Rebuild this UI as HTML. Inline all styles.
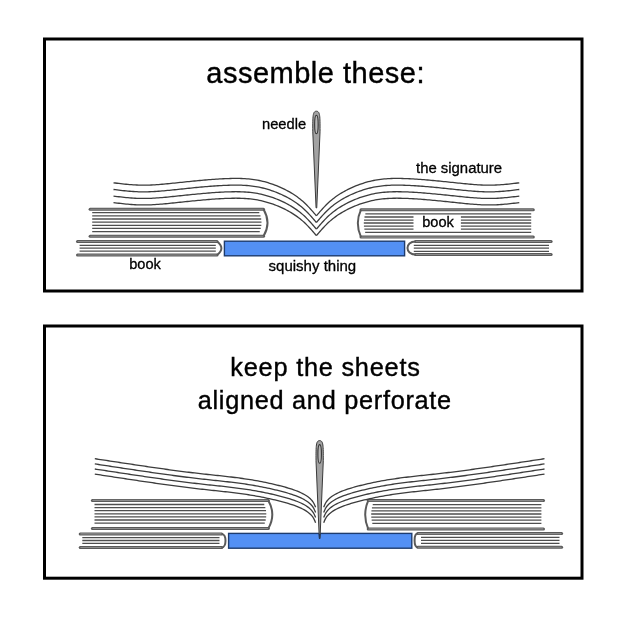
<!DOCTYPE html>
<html><head><meta charset="utf-8"><style>
html,body{margin:0;padding:0;background:#fff;}
svg{display:block;will-change:transform;}
text{font-family:"Liberation Sans",sans-serif;fill:#000;}
</style></head><body>
<svg width="620" height="618" viewBox="0 0 620 618">
<rect x="44.5" y="39" width="537.5" height="252" fill="none" stroke="#000" stroke-width="3"/>
<rect x="44.5" y="326" width="537.5" height="252.2" fill="none" stroke="#000" stroke-width="3"/>
<text transform="translate(315.60,82.60) scale(1.000,1)" font-size="29.00" text-anchor="middle" letter-spacing="0.50" stroke="#000" stroke-width="0.40">assemble these:</text>
<text transform="translate(262.00,129.20) scale(1.000,1)" font-size="14.70" text-anchor="start" letter-spacing="0.00" stroke="#000" stroke-width="0.30">needle</text>
<text transform="translate(416.00,172.50) scale(1.000,1)" font-size="14.90" text-anchor="start" letter-spacing="0.00" stroke="#000" stroke-width="0.30">the signature</text>
<text transform="translate(129.20,269.00) scale(1.000,1)" font-size="14.60" text-anchor="start" letter-spacing="0.00" stroke="#000" stroke-width="0.30">book</text>
<text transform="translate(268.60,271.00) scale(1.000,1)" font-size="15.00" text-anchor="start" letter-spacing="0.00" stroke="#000" stroke-width="0.30">squishy thing</text>
<line x1="90.10" y1="209.20" x2="263.50" y2="209.20" stroke="#5a5a5a" stroke-width="3" stroke-linecap="round"/>
<line x1="90.70" y1="209.20" x2="262.90" y2="209.20" stroke="#8c8c8c" stroke-width="1.1" stroke-linecap="round"/>
<line x1="90.10" y1="236.20" x2="263.50" y2="236.20" stroke="#5a5a5a" stroke-width="3" stroke-linecap="round"/>
<line x1="90.70" y1="236.20" x2="262.90" y2="236.20" stroke="#8c8c8c" stroke-width="1.1" stroke-linecap="round"/>
<path d="M263.50,209.20 Q271.50,222.70 263.50,236.20" fill="none" stroke="#5a5a5a" stroke-width="2"/>
<line x1="92.20" y1="212.70" x2="259.31" y2="212.70" stroke="#4e4e4e" stroke-width="1.3"/>
<line x1="92.20" y1="215.85" x2="260.47" y2="215.85" stroke="#4e4e4e" stroke-width="1.3"/>
<line x1="92.20" y1="219.00" x2="261.20" y2="219.00" stroke="#4e4e4e" stroke-width="1.3"/>
<line x1="92.20" y1="222.15" x2="261.49" y2="222.15" stroke="#4e4e4e" stroke-width="1.3"/>
<line x1="92.20" y1="225.30" x2="261.35" y2="225.30" stroke="#4e4e4e" stroke-width="1.3"/>
<line x1="92.20" y1="228.45" x2="260.77" y2="228.45" stroke="#4e4e4e" stroke-width="1.3"/>
<line x1="92.20" y1="231.60" x2="259.76" y2="231.60" stroke="#4e4e4e" stroke-width="1.3"/>
<line x1="361.00" y1="209.70" x2="533.30" y2="209.70" stroke="#5a5a5a" stroke-width="3" stroke-linecap="round"/>
<line x1="361.60" y1="209.70" x2="532.70" y2="209.70" stroke="#8c8c8c" stroke-width="1.1" stroke-linecap="round"/>
<line x1="361.00" y1="237.10" x2="533.30" y2="237.10" stroke="#5a5a5a" stroke-width="3" stroke-linecap="round"/>
<line x1="361.60" y1="237.10" x2="532.70" y2="237.10" stroke="#8c8c8c" stroke-width="1.1" stroke-linecap="round"/>
<path d="M361.00,209.70 Q354.60,223.40 361.00,237.10" fill="none" stroke="#5a5a5a" stroke-width="2"/>
<line x1="365.34" y1="213.90" x2="531.20" y2="213.90" stroke="#4e4e4e" stroke-width="1.3"/>
<line x1="364.50" y1="217.00" x2="531.20" y2="217.00" stroke="#4e4e4e" stroke-width="1.3"/>
<line x1="363.99" y1="220.10" x2="531.20" y2="220.10" stroke="#4e4e4e" stroke-width="1.3"/>
<line x1="363.80" y1="223.00" x2="531.20" y2="223.00" stroke="#4e4e4e" stroke-width="1.3"/>
<line x1="363.92" y1="226.10" x2="531.20" y2="226.10" stroke="#4e4e4e" stroke-width="1.3"/>
<line x1="364.37" y1="229.20" x2="531.20" y2="229.20" stroke="#4e4e4e" stroke-width="1.3"/>
<line x1="365.15" y1="232.30" x2="531.20" y2="232.30" stroke="#4e4e4e" stroke-width="1.3"/>
<line x1="77.50" y1="241.50" x2="217.00" y2="241.50" stroke="#5a5a5a" stroke-width="3" stroke-linecap="round"/>
<line x1="78.10" y1="241.50" x2="216.40" y2="241.50" stroke="#8c8c8c" stroke-width="1.1" stroke-linecap="round"/>
<line x1="77.50" y1="255.00" x2="217.00" y2="255.00" stroke="#5a5a5a" stroke-width="3" stroke-linecap="round"/>
<line x1="78.10" y1="255.00" x2="216.40" y2="255.00" stroke="#8c8c8c" stroke-width="1.1" stroke-linecap="round"/>
<path d="M217.00,241.50 Q225.80,248.25 217.00,255.00" fill="none" stroke="#5a5a5a" stroke-width="2"/>
<line x1="79.60" y1="245.30" x2="215.80" y2="245.30" stroke="#4e4e4e" stroke-width="1.3"/>
<line x1="79.60" y1="248.20" x2="215.80" y2="248.20" stroke="#4e4e4e" stroke-width="1.3"/>
<line x1="79.60" y1="251.10" x2="215.80" y2="251.10" stroke="#4e4e4e" stroke-width="1.3"/>
<line x1="415.50" y1="241.50" x2="551.10" y2="241.50" stroke="#5a5a5a" stroke-width="3" stroke-linecap="round"/>
<line x1="416.10" y1="241.50" x2="550.50" y2="241.50" stroke="#8c8c8c" stroke-width="1.1" stroke-linecap="round"/>
<line x1="415.50" y1="254.50" x2="551.10" y2="254.50" stroke="#5a5a5a" stroke-width="3" stroke-linecap="round"/>
<line x1="416.10" y1="254.50" x2="550.50" y2="254.50" stroke="#8c8c8c" stroke-width="1.1" stroke-linecap="round"/>
<path d="M415.50,241.50 C404.83,241.50 404.83,254.50 415.50,254.50" fill="none" stroke="#5a5a5a" stroke-width="2"/>
<line x1="413.80" y1="245.30" x2="549.00" y2="245.30" stroke="#4e4e4e" stroke-width="1.3"/>
<line x1="413.80" y1="248.20" x2="549.00" y2="248.20" stroke="#4e4e4e" stroke-width="1.3"/>
<line x1="413.80" y1="251.30" x2="549.00" y2="251.30" stroke="#4e4e4e" stroke-width="1.3"/>
<rect x="224.4" y="241.2" width="180.2" height="14.6" fill="#5390f4" stroke="#1e3c6e" stroke-width="1.4"/>
<rect x="413.5" y="215.7" width="47.4" height="14.7" fill="#fff"/>
<text transform="translate(422.20,227.20) scale(1.000,1)" font-size="14.60" text-anchor="start" letter-spacing="0.00" stroke="#000" stroke-width="0.30">book</text>
<path d="M113.50,182.80 L115.30,183.02 L117.09,183.23 L118.89,183.44 L120.69,183.65 L122.48,183.85 L124.28,184.04 L126.08,184.23 L127.87,184.40 L129.67,184.55 L131.47,184.70 L133.27,184.82 L135.07,184.93 L136.86,185.02 L138.66,185.09 L140.46,185.13 L142.27,185.16 L144.07,185.16 L145.87,185.14 L147.67,185.10 L149.47,185.05 L151.28,184.98 L153.08,184.89 L154.88,184.79 L156.68,184.67 L158.49,184.54 L160.29,184.40 L162.09,184.26 L163.89,184.10 L165.70,183.93 L167.50,183.76 L169.30,183.58 L171.10,183.40 L172.90,183.22 L174.70,183.03 L176.50,182.84 L178.30,182.66 L180.09,182.47 L181.89,182.28 L183.69,182.09 L185.48,181.90 L187.28,181.72 L189.08,181.53 L190.87,181.35 L192.67,181.17 L194.46,180.99 L196.26,180.82 L198.05,180.64 L199.85,180.48 L201.64,180.31 L203.44,180.15 L205.24,179.99 L207.03,179.84 L208.83,179.69 L210.63,179.55 L212.42,179.41 L214.22,179.29 L216.02,179.16 L217.82,179.05 L219.62,178.94 L221.43,178.84 L223.23,178.75 L225.03,178.67 L226.84,178.60 L228.64,178.54 L230.45,178.49 L232.26,178.45 L234.07,178.43 L235.88,178.42 L237.69,178.43 L239.50,178.46 L241.31,178.51 L243.12,178.58 L244.92,178.68 L246.73,178.80 L248.53,178.95 L250.32,179.12 L252.12,179.33 L253.90,179.57 L255.69,179.85 L257.46,180.16 L259.24,180.50 L261.00,180.88 L262.76,181.30 L264.51,181.74 L266.25,182.22 L267.99,182.73 L269.72,183.27 L271.43,183.84 L273.14,184.43 L274.84,185.06 L276.52,185.71 L278.20,186.39 L279.86,187.09 L281.51,187.83 L283.15,188.59 L284.77,189.38 L286.38,190.21 L287.98,191.06 L289.55,191.94 L291.11,192.86 L292.66,193.80 L294.18,194.78 L295.68,195.79 L297.16,196.83 L298.61,197.91 L300.04,199.02 L301.44,200.16 L302.81,201.33 L304.15,202.54 L305.46,203.78 L306.74,205.04 L308.00,206.33 L309.24,207.64 L310.46,208.98 L311.66,210.32 L312.86,211.68 L314.04,213.05 L315.22,214.42 L316.40,215.80" fill="none" stroke="#3c3c3c" stroke-width="1.30" stroke-linejoin="round"/>
<path d="M316.40,215.80 L317.58,214.42 L318.76,213.05 L319.94,211.68 L321.14,210.32 L322.34,208.98 L323.56,207.64 L324.80,206.33 L326.06,205.04 L327.34,203.78 L328.65,202.54 L329.99,201.33 L331.36,200.16 L332.76,199.02 L334.19,197.91 L335.64,196.83 L337.12,195.79 L338.62,194.78 L340.14,193.80 L341.69,192.86 L343.25,191.94 L344.82,191.06 L346.42,190.21 L348.03,189.38 L349.65,188.59 L351.29,187.83 L352.94,187.09 L354.60,186.39 L356.28,185.71 L357.96,185.06 L359.66,184.43 L361.37,183.84 L363.08,183.27 L364.81,182.73 L366.55,182.22 L368.29,181.74 L370.04,181.30 L371.80,180.88 L373.56,180.50 L375.34,180.16 L377.11,179.85 L378.90,179.57 L380.68,179.33 L382.48,179.12 L384.27,178.95 L386.07,178.80 L387.88,178.68 L389.68,178.58 L391.49,178.51 L393.30,178.46 L395.11,178.43 L396.92,178.42 L398.73,178.43 L400.54,178.45 L402.35,178.49 L404.16,178.54 L405.96,178.60 L407.77,178.67 L409.57,178.75 L411.37,178.84 L413.18,178.94 L414.98,179.05 L416.78,179.16 L418.58,179.29 L420.38,179.41 L422.17,179.55 L423.97,179.69 L425.77,179.84 L427.56,179.99 L429.36,180.15 L431.16,180.31 L432.95,180.48 L434.75,180.64 L436.54,180.82 L438.34,180.99 L440.13,181.17 L441.93,181.35 L443.72,181.53 L445.52,181.72 L447.32,181.90 L449.11,182.09 L450.91,182.28 L452.71,182.47 L454.50,182.66 L456.30,182.84 L458.10,183.03 L459.90,183.22 L461.70,183.40 L463.50,183.58 L465.30,183.76 L467.10,183.93 L468.91,184.10 L470.71,184.26 L472.51,184.40 L474.31,184.54 L476.12,184.67 L477.92,184.79 L479.72,184.89 L481.52,184.98 L483.33,185.05 L485.13,185.10 L486.93,185.14 L488.73,185.16 L490.53,185.16 L492.34,185.13 L494.14,185.09 L495.94,185.02 L497.73,184.93 L499.53,184.82 L501.33,184.70 L503.13,184.55 L504.93,184.40 L506.72,184.23 L508.52,184.04 L510.32,183.85 L512.11,183.65 L513.91,183.44 L515.71,183.23 L517.50,183.02 L519.30,182.80" fill="none" stroke="#3c3c3c" stroke-width="1.30" stroke-linejoin="round"/>
<path d="M113.50,189.50 L115.30,189.72 L117.09,189.93 L118.89,190.14 L120.69,190.35 L122.48,190.55 L124.28,190.74 L126.08,190.93 L127.87,191.10 L129.67,191.25 L131.47,191.40 L133.27,191.52 L135.07,191.63 L136.86,191.72 L138.66,191.79 L140.46,191.83 L142.27,191.86 L144.07,191.86 L145.87,191.84 L147.67,191.80 L149.47,191.75 L151.28,191.68 L153.08,191.59 L154.88,191.49 L156.68,191.37 L158.49,191.24 L160.29,191.10 L162.09,190.96 L163.89,190.80 L165.70,190.63 L167.50,190.46 L169.30,190.28 L171.10,190.10 L172.90,189.92 L174.70,189.73 L176.50,189.54 L178.30,189.36 L180.09,189.17 L181.89,188.98 L183.69,188.79 L185.48,188.60 L187.28,188.42 L189.08,188.23 L190.87,188.05 L192.67,187.87 L194.46,187.69 L196.26,187.52 L198.05,187.34 L199.85,187.18 L201.64,187.01 L203.44,186.85 L205.24,186.69 L207.03,186.54 L208.83,186.39 L210.63,186.25 L212.42,186.11 L214.22,185.99 L216.02,185.86 L217.82,185.75 L219.62,185.64 L221.43,185.54 L223.23,185.45 L225.03,185.37 L226.84,185.30 L228.64,185.24 L230.45,185.19 L232.26,185.15 L234.07,185.13 L235.88,185.12 L237.69,185.13 L239.50,185.16 L241.31,185.21 L243.12,185.28 L244.92,185.38 L246.73,185.50 L248.53,185.65 L250.32,185.82 L252.12,186.03 L253.90,186.27 L255.69,186.55 L257.46,186.86 L259.24,187.20 L261.00,187.58 L262.76,188.00 L264.51,188.44 L266.25,188.92 L267.99,189.43 L269.72,189.97 L271.43,190.54 L273.14,191.13 L274.84,191.76 L276.52,192.41 L278.20,193.09 L279.86,193.79 L281.51,194.53 L283.15,195.29 L284.77,196.08 L286.38,196.91 L287.98,197.76 L289.55,198.64 L291.11,199.56 L292.66,200.50 L294.18,201.48 L295.68,202.49 L297.16,203.53 L298.61,204.61 L300.04,205.72 L301.44,206.86 L302.81,208.03 L304.15,209.24 L305.46,210.48 L306.74,211.74 L308.00,213.03 L309.24,214.34 L310.46,215.68 L311.66,217.02 L312.86,218.38 L314.04,219.75 L315.22,221.12 L316.40,222.50" fill="none" stroke="#3c3c3c" stroke-width="1.30" stroke-linejoin="round"/>
<path d="M316.40,222.50 L317.58,221.12 L318.76,219.75 L319.94,218.38 L321.14,217.02 L322.34,215.68 L323.56,214.34 L324.80,213.03 L326.06,211.74 L327.34,210.48 L328.65,209.24 L329.99,208.03 L331.36,206.86 L332.76,205.72 L334.19,204.61 L335.64,203.53 L337.12,202.49 L338.62,201.48 L340.14,200.50 L341.69,199.56 L343.25,198.64 L344.82,197.76 L346.42,196.91 L348.03,196.08 L349.65,195.29 L351.29,194.53 L352.94,193.79 L354.60,193.09 L356.28,192.41 L357.96,191.76 L359.66,191.13 L361.37,190.54 L363.08,189.97 L364.81,189.43 L366.55,188.92 L368.29,188.44 L370.04,188.00 L371.80,187.58 L373.56,187.20 L375.34,186.86 L377.11,186.55 L378.90,186.27 L380.68,186.03 L382.48,185.82 L384.27,185.65 L386.07,185.50 L387.88,185.38 L389.68,185.28 L391.49,185.21 L393.30,185.16 L395.11,185.13 L396.92,185.12 L398.73,185.13 L400.54,185.15 L402.35,185.19 L404.16,185.24 L405.96,185.30 L407.77,185.37 L409.57,185.45 L411.37,185.54 L413.18,185.64 L414.98,185.75 L416.78,185.86 L418.58,185.99 L420.38,186.11 L422.17,186.25 L423.97,186.39 L425.77,186.54 L427.56,186.69 L429.36,186.85 L431.16,187.01 L432.95,187.18 L434.75,187.34 L436.54,187.52 L438.34,187.69 L440.13,187.87 L441.93,188.05 L443.72,188.23 L445.52,188.42 L447.32,188.60 L449.11,188.79 L450.91,188.98 L452.71,189.17 L454.50,189.36 L456.30,189.54 L458.10,189.73 L459.90,189.92 L461.70,190.10 L463.50,190.28 L465.30,190.46 L467.10,190.63 L468.91,190.80 L470.71,190.96 L472.51,191.10 L474.31,191.24 L476.12,191.37 L477.92,191.49 L479.72,191.59 L481.52,191.68 L483.33,191.75 L485.13,191.80 L486.93,191.84 L488.73,191.86 L490.53,191.86 L492.34,191.83 L494.14,191.79 L495.94,191.72 L497.73,191.63 L499.53,191.52 L501.33,191.40 L503.13,191.25 L504.93,191.10 L506.72,190.93 L508.52,190.74 L510.32,190.55 L512.11,190.35 L513.91,190.14 L515.71,189.93 L517.50,189.72 L519.30,189.50" fill="none" stroke="#3c3c3c" stroke-width="1.30" stroke-linejoin="round"/>
<path d="M113.50,196.10 L115.30,196.32 L117.09,196.53 L118.89,196.74 L120.69,196.95 L122.48,197.15 L124.28,197.34 L126.08,197.53 L127.87,197.70 L129.67,197.85 L131.47,198.00 L133.27,198.12 L135.07,198.23 L136.86,198.32 L138.66,198.39 L140.46,198.43 L142.27,198.46 L144.07,198.46 L145.87,198.44 L147.67,198.40 L149.47,198.35 L151.28,198.28 L153.08,198.19 L154.88,198.09 L156.68,197.97 L158.49,197.84 L160.29,197.70 L162.09,197.56 L163.89,197.40 L165.70,197.23 L167.50,197.06 L169.30,196.88 L171.10,196.70 L172.90,196.52 L174.70,196.33 L176.50,196.14 L178.30,195.96 L180.09,195.77 L181.89,195.58 L183.69,195.39 L185.48,195.20 L187.28,195.02 L189.08,194.83 L190.87,194.65 L192.67,194.47 L194.46,194.29 L196.26,194.12 L198.05,193.94 L199.85,193.78 L201.64,193.61 L203.44,193.45 L205.24,193.29 L207.03,193.14 L208.83,192.99 L210.63,192.85 L212.42,192.71 L214.22,192.59 L216.02,192.46 L217.82,192.35 L219.62,192.24 L221.43,192.14 L223.23,192.05 L225.03,191.97 L226.84,191.90 L228.64,191.84 L230.45,191.79 L232.26,191.75 L234.07,191.73 L235.88,191.72 L237.69,191.73 L239.50,191.76 L241.31,191.81 L243.12,191.88 L244.92,191.98 L246.73,192.10 L248.53,192.25 L250.32,192.42 L252.12,192.63 L253.90,192.87 L255.69,193.15 L257.46,193.46 L259.24,193.80 L261.00,194.18 L262.76,194.60 L264.51,195.04 L266.25,195.52 L267.99,196.03 L269.72,196.57 L271.43,197.14 L273.14,197.73 L274.84,198.36 L276.52,199.01 L278.20,199.69 L279.86,200.39 L281.51,201.13 L283.15,201.89 L284.77,202.68 L286.38,203.51 L287.98,204.36 L289.55,205.24 L291.11,206.16 L292.66,207.10 L294.18,208.08 L295.68,209.09 L297.16,210.13 L298.61,211.21 L300.04,212.32 L301.44,213.46 L302.81,214.63 L304.15,215.84 L305.46,217.08 L306.74,218.34 L308.00,219.63 L309.24,220.94 L310.46,222.28 L311.66,223.62 L312.86,224.98 L314.04,226.35 L315.22,227.72 L316.40,229.10" fill="none" stroke="#3c3c3c" stroke-width="1.30" stroke-linejoin="round"/>
<path d="M316.40,229.10 L317.58,227.72 L318.76,226.35 L319.94,224.98 L321.14,223.62 L322.34,222.28 L323.56,220.94 L324.80,219.63 L326.06,218.34 L327.34,217.08 L328.65,215.84 L329.99,214.63 L331.36,213.46 L332.76,212.32 L334.19,211.21 L335.64,210.13 L337.12,209.09 L338.62,208.08 L340.14,207.10 L341.69,206.16 L343.25,205.24 L344.82,204.36 L346.42,203.51 L348.03,202.68 L349.65,201.89 L351.29,201.13 L352.94,200.39 L354.60,199.69 L356.28,199.01 L357.96,198.36 L359.66,197.73 L361.37,197.14 L363.08,196.57 L364.81,196.03 L366.55,195.52 L368.29,195.04 L370.04,194.60 L371.80,194.18 L373.56,193.80 L375.34,193.46 L377.11,193.15 L378.90,192.87 L380.68,192.63 L382.48,192.42 L384.27,192.25 L386.07,192.10 L387.88,191.98 L389.68,191.88 L391.49,191.81 L393.30,191.76 L395.11,191.73 L396.92,191.72 L398.73,191.73 L400.54,191.75 L402.35,191.79 L404.16,191.84 L405.96,191.90 L407.77,191.97 L409.57,192.05 L411.37,192.14 L413.18,192.24 L414.98,192.35 L416.78,192.46 L418.58,192.59 L420.38,192.71 L422.17,192.85 L423.97,192.99 L425.77,193.14 L427.56,193.29 L429.36,193.45 L431.16,193.61 L432.95,193.78 L434.75,193.94 L436.54,194.12 L438.34,194.29 L440.13,194.47 L441.93,194.65 L443.72,194.83 L445.52,195.02 L447.32,195.20 L449.11,195.39 L450.91,195.58 L452.71,195.77 L454.50,195.96 L456.30,196.14 L458.10,196.33 L459.90,196.52 L461.70,196.70 L463.50,196.88 L465.30,197.06 L467.10,197.23 L468.91,197.40 L470.71,197.56 L472.51,197.70 L474.31,197.84 L476.12,197.97 L477.92,198.09 L479.72,198.19 L481.52,198.28 L483.33,198.35 L485.13,198.40 L486.93,198.44 L488.73,198.46 L490.53,198.46 L492.34,198.43 L494.14,198.39 L495.94,198.32 L497.73,198.23 L499.53,198.12 L501.33,198.00 L503.13,197.85 L504.93,197.70 L506.72,197.53 L508.52,197.34 L510.32,197.15 L512.11,196.95 L513.91,196.74 L515.71,196.53 L517.50,196.32 L519.30,196.10" fill="none" stroke="#3c3c3c" stroke-width="1.30" stroke-linejoin="round"/>
<path d="M113.50,202.60 L115.30,202.82 L117.09,203.03 L118.89,203.24 L120.69,203.45 L122.48,203.65 L124.28,203.84 L126.08,204.03 L127.87,204.20 L129.67,204.35 L131.47,204.50 L133.27,204.62 L135.07,204.73 L136.86,204.82 L138.66,204.89 L140.46,204.93 L142.27,204.96 L144.07,204.96 L145.87,204.94 L147.67,204.90 L149.47,204.85 L151.28,204.78 L153.08,204.69 L154.88,204.59 L156.68,204.47 L158.49,204.34 L160.29,204.20 L162.09,204.06 L163.89,203.90 L165.70,203.73 L167.50,203.56 L169.30,203.38 L171.10,203.20 L172.90,203.02 L174.70,202.83 L176.50,202.64 L178.30,202.46 L180.09,202.27 L181.89,202.08 L183.69,201.89 L185.48,201.70 L187.28,201.52 L189.08,201.33 L190.87,201.15 L192.67,200.97 L194.46,200.79 L196.26,200.62 L198.05,200.44 L199.85,200.28 L201.64,200.11 L203.44,199.95 L205.24,199.79 L207.03,199.64 L208.83,199.49 L210.63,199.35 L212.42,199.21 L214.22,199.09 L216.02,198.96 L217.82,198.85 L219.62,198.74 L221.43,198.64 L223.23,198.55 L225.03,198.47 L226.84,198.40 L228.64,198.34 L230.45,198.29 L232.26,198.25 L234.07,198.23 L235.88,198.22 L237.69,198.23 L239.50,198.26 L241.31,198.31 L243.12,198.38 L244.92,198.48 L246.73,198.60 L248.53,198.75 L250.32,198.92 L252.12,199.13 L253.90,199.37 L255.69,199.65 L257.46,199.96 L259.24,200.30 L261.00,200.68 L262.76,201.10 L264.51,201.54 L266.25,202.02 L267.99,202.53 L269.72,203.07 L271.43,203.64 L273.14,204.23 L274.84,204.86 L276.52,205.51 L278.20,206.19 L279.86,206.89 L281.51,207.63 L283.15,208.39 L284.77,209.18 L286.38,210.01 L287.98,210.86 L289.55,211.74 L291.11,212.66 L292.66,213.60 L294.18,214.58 L295.68,215.59 L297.16,216.63 L298.61,217.71 L300.04,218.82 L301.44,219.96 L302.81,221.13 L304.15,222.34 L305.46,223.58 L306.74,224.84 L308.00,226.13 L309.24,227.44 L310.46,228.78 L311.66,230.12 L312.86,231.48 L314.04,232.85 L315.22,234.22 L316.40,235.60" fill="none" stroke="#3c3c3c" stroke-width="1.30" stroke-linejoin="round"/>
<path d="M316.40,235.60 L317.58,234.22 L318.76,232.85 L319.94,231.48 L321.14,230.12 L322.34,228.78 L323.56,227.44 L324.80,226.13 L326.06,224.84 L327.34,223.58 L328.65,222.34 L329.99,221.13 L331.36,219.96 L332.76,218.82 L334.19,217.71 L335.64,216.63 L337.12,215.59 L338.62,214.58 L340.14,213.60 L341.69,212.66 L343.25,211.74 L344.82,210.86 L346.42,210.01 L348.03,209.18 L349.65,208.39 L351.29,207.63 L352.94,206.89 L354.60,206.19 L356.28,205.51 L357.96,204.86 L359.66,204.23 L361.37,203.64 L363.08,203.07 L364.81,202.53 L366.55,202.02 L368.29,201.54 L370.04,201.10 L371.80,200.68 L373.56,200.30 L375.34,199.96 L377.11,199.65 L378.90,199.37 L380.68,199.13 L382.48,198.92 L384.27,198.75 L386.07,198.60 L387.88,198.48 L389.68,198.38 L391.49,198.31 L393.30,198.26 L395.11,198.23 L396.92,198.22 L398.73,198.23 L400.54,198.25 L402.35,198.29 L404.16,198.34 L405.96,198.40 L407.77,198.47 L409.57,198.55 L411.37,198.64 L413.18,198.74 L414.98,198.85 L416.78,198.96 L418.58,199.09 L420.38,199.21 L422.17,199.35 L423.97,199.49 L425.77,199.64 L427.56,199.79 L429.36,199.95 L431.16,200.11 L432.95,200.28 L434.75,200.44 L436.54,200.62 L438.34,200.79 L440.13,200.97 L441.93,201.15 L443.72,201.33 L445.52,201.52 L447.32,201.70 L449.11,201.89 L450.91,202.08 L452.71,202.27 L454.50,202.46 L456.30,202.64 L458.10,202.83 L459.90,203.02 L461.70,203.20 L463.50,203.38 L465.30,203.56 L467.10,203.73 L468.91,203.90 L470.71,204.06 L472.51,204.20 L474.31,204.34 L476.12,204.47 L477.92,204.59 L479.72,204.69 L481.52,204.78 L483.33,204.85 L485.13,204.90 L486.93,204.94 L488.73,204.96 L490.53,204.96 L492.34,204.93 L494.14,204.89 L495.94,204.82 L497.73,204.73 L499.53,204.62 L501.33,204.50 L503.13,204.35 L504.93,204.20 L506.72,204.03 L508.52,203.84 L510.32,203.65 L512.11,203.45 L513.91,203.24 L515.71,203.03 L517.50,202.82 L519.30,202.60" fill="none" stroke="#3c3c3c" stroke-width="1.30" stroke-linejoin="round"/>
<path d="M316.40,111.20 C320.12,111.20 320.05,116.20 320.05,131.20 L316.75,207.90 L316.05,207.90 L312.75,131.20 C312.75,116.20 312.68,111.20 316.40,111.20 Z" fill="#a2a2a2" stroke="#3a3a3a" stroke-width="1.0" stroke-linejoin="round"/>
<ellipse cx="316.40" cy="124.50" rx="1.75" ry="9.30" fill="#b8b8b8" stroke="#333" stroke-width="1.1"/>
<text transform="translate(325.50,375.90) scale(1.000,1)" font-size="25.30" text-anchor="middle" letter-spacing="0.78" stroke="#000" stroke-width="0.40">keep the sheets</text>
<text transform="translate(324.80,408.80) scale(1.000,1)" font-size="25.30" text-anchor="middle" letter-spacing="0.72" stroke="#000" stroke-width="0.40">aligned and perforate</text>
<line x1="92.40" y1="500.40" x2="268.30" y2="500.40" stroke="#5a5a5a" stroke-width="3" stroke-linecap="round"/>
<line x1="93.00" y1="500.40" x2="267.70" y2="500.40" stroke="#8c8c8c" stroke-width="1.1" stroke-linecap="round"/>
<line x1="92.40" y1="528.50" x2="268.30" y2="528.50" stroke="#5a5a5a" stroke-width="3" stroke-linecap="round"/>
<line x1="93.00" y1="528.50" x2="267.70" y2="528.50" stroke="#8c8c8c" stroke-width="1.1" stroke-linecap="round"/>
<path d="M268.30,500.40 Q276.30,514.45 268.30,528.50" fill="none" stroke="#5a5a5a" stroke-width="2"/>
<line x1="94.50" y1="504.50" x2="264.29" y2="504.50" stroke="#4e4e4e" stroke-width="1.3"/>
<line x1="94.50" y1="507.60" x2="265.35" y2="507.60" stroke="#4e4e4e" stroke-width="1.3"/>
<line x1="94.50" y1="510.70" x2="266.02" y2="510.70" stroke="#4e4e4e" stroke-width="1.3"/>
<line x1="94.50" y1="513.80" x2="266.29" y2="513.80" stroke="#4e4e4e" stroke-width="1.3"/>
<line x1="94.50" y1="516.90" x2="266.18" y2="516.90" stroke="#4e4e4e" stroke-width="1.3"/>
<line x1="94.50" y1="520.00" x2="265.68" y2="520.00" stroke="#4e4e4e" stroke-width="1.3"/>
<line x1="94.50" y1="523.10" x2="264.78" y2="523.10" stroke="#4e4e4e" stroke-width="1.3"/>
<line x1="368.20" y1="500.60" x2="543.50" y2="500.60" stroke="#5a5a5a" stroke-width="3" stroke-linecap="round"/>
<line x1="368.80" y1="500.60" x2="542.90" y2="500.60" stroke="#8c8c8c" stroke-width="1.1" stroke-linecap="round"/>
<line x1="368.20" y1="528.90" x2="543.50" y2="528.90" stroke="#5a5a5a" stroke-width="3" stroke-linecap="round"/>
<line x1="368.80" y1="528.90" x2="542.90" y2="528.90" stroke="#8c8c8c" stroke-width="1.1" stroke-linecap="round"/>
<path d="M368.20,500.60 Q362.20,514.75 368.20,528.90" fill="none" stroke="#5a5a5a" stroke-width="2"/>
<line x1="372.71" y1="504.70" x2="541.40" y2="504.70" stroke="#4e4e4e" stroke-width="1.3"/>
<line x1="371.92" y1="507.80" x2="541.40" y2="507.80" stroke="#4e4e4e" stroke-width="1.3"/>
<line x1="371.42" y1="510.90" x2="541.40" y2="510.90" stroke="#4e4e4e" stroke-width="1.3"/>
<line x1="371.21" y1="514.00" x2="541.40" y2="514.00" stroke="#4e4e4e" stroke-width="1.3"/>
<line x1="371.28" y1="517.10" x2="541.40" y2="517.10" stroke="#4e4e4e" stroke-width="1.3"/>
<line x1="371.65" y1="520.20" x2="541.40" y2="520.20" stroke="#4e4e4e" stroke-width="1.3"/>
<line x1="372.30" y1="523.30" x2="541.40" y2="523.30" stroke="#4e4e4e" stroke-width="1.3"/>
<line x1="80.20" y1="533.90" x2="221.70" y2="533.90" stroke="#5a5a5a" stroke-width="3" stroke-linecap="round"/>
<line x1="80.80" y1="533.90" x2="221.10" y2="533.90" stroke="#8c8c8c" stroke-width="1.1" stroke-linecap="round"/>
<line x1="80.20" y1="547.50" x2="221.70" y2="547.50" stroke="#5a5a5a" stroke-width="3" stroke-linecap="round"/>
<line x1="80.80" y1="547.50" x2="221.10" y2="547.50" stroke="#8c8c8c" stroke-width="1.1" stroke-linecap="round"/>
<path d="M221.70,533.90 C226.77,533.90 226.77,547.50 221.70,547.50" fill="none" stroke="#5a5a5a" stroke-width="2"/>
<line x1="82.30" y1="537.70" x2="219.50" y2="537.70" stroke="#4e4e4e" stroke-width="1.3"/>
<line x1="82.30" y1="540.50" x2="219.50" y2="540.50" stroke="#4e4e4e" stroke-width="1.3"/>
<line x1="82.30" y1="543.30" x2="219.50" y2="543.30" stroke="#4e4e4e" stroke-width="1.3"/>
<line x1="417.80" y1="533.60" x2="561.60" y2="533.60" stroke="#5a5a5a" stroke-width="3" stroke-linecap="round"/>
<line x1="418.40" y1="533.60" x2="561.00" y2="533.60" stroke="#8c8c8c" stroke-width="1.1" stroke-linecap="round"/>
<line x1="417.80" y1="547.20" x2="561.60" y2="547.20" stroke="#5a5a5a" stroke-width="3" stroke-linecap="round"/>
<line x1="418.40" y1="547.20" x2="561.00" y2="547.20" stroke="#8c8c8c" stroke-width="1.1" stroke-linecap="round"/>
<path d="M417.80,533.60 C413.53,533.60 413.53,547.20 417.80,547.20" fill="none" stroke="#5a5a5a" stroke-width="2"/>
<line x1="421.00" y1="537.40" x2="559.50" y2="537.40" stroke="#4e4e4e" stroke-width="1.3"/>
<line x1="421.00" y1="540.30" x2="559.50" y2="540.30" stroke="#4e4e4e" stroke-width="1.3"/>
<line x1="421.00" y1="543.40" x2="559.50" y2="543.40" stroke="#4e4e4e" stroke-width="1.3"/>
<rect x="228.6" y="533.4" width="183.2" height="14.8" fill="#5390f4" stroke="#1e3c6e" stroke-width="1.4"/>
<path d="M94.80,458.70 L96.72,458.99 L98.63,459.29 L100.55,459.58 L102.46,459.87 L104.38,460.16 L106.29,460.46 L108.21,460.75 L110.13,461.04 L112.04,461.33 L113.96,461.62 L115.87,461.92 L117.79,462.21 L119.71,462.50 L121.62,462.79 L123.54,463.08 L125.45,463.36 L127.37,463.65 L129.29,463.94 L131.20,464.23 L133.12,464.51 L135.04,464.80 L136.95,465.08 L138.87,465.37 L140.79,465.65 L142.70,465.93 L144.62,466.22 L146.54,466.50 L148.46,466.78 L150.37,467.05 L152.29,467.33 L154.21,467.61 L156.13,467.88 L158.05,468.16 L159.97,468.43 L161.88,468.70 L163.80,468.97 L165.72,469.24 L167.64,469.50 L169.56,469.77 L171.48,470.03 L173.40,470.29 L175.32,470.55 L177.24,470.80 L179.17,471.05 L181.09,471.30 L183.01,471.55 L184.93,471.79 L186.86,472.04 L188.78,472.27 L190.70,472.51 L192.63,472.74 L194.55,472.97 L196.48,473.20 L198.40,473.42 L200.33,473.64 L202.25,473.85 L204.18,474.06 L206.11,474.27 L208.04,474.48 L209.96,474.69 L211.89,474.89 L213.82,475.10 L215.75,475.30 L217.67,475.51 L219.60,475.71 L221.53,475.92 L223.46,476.13 L225.38,476.35 L227.31,476.57 L229.23,476.79 L231.16,477.01 L233.08,477.25 L235.01,477.48 L236.93,477.73 L238.85,477.98 L240.77,478.24 L242.69,478.50 L244.61,478.78 L246.52,479.06 L248.44,479.35 L250.35,479.66 L252.26,479.97 L254.17,480.29 L256.08,480.63 L257.99,480.97 L259.90,481.33 L261.80,481.70 L263.70,482.08 L265.60,482.47 L267.50,482.87 L269.39,483.28 L271.28,483.70 L273.17,484.13 L275.06,484.58 L276.94,485.03 L278.83,485.50 L280.71,485.98 L282.58,486.47 L284.45,486.98 L286.32,487.50 L288.18,488.05 L290.03,488.62 L291.88,489.22 L293.71,489.84 L295.54,490.50 L297.35,491.19 L299.14,491.93 L300.91,492.72 L302.65,493.57 L304.36,494.49 L306.02,495.49 L307.63,496.58 L309.17,497.77 L310.62,499.08 L311.95,500.50 L313.10,502.05 L314.06,503.73 L314.87,505.49 L315.60,507.30" fill="none" stroke="#3c3c3c" stroke-width="1.30" stroke-linejoin="round"/>
<path d="M323.70,507.30 L324.43,505.49 L325.24,503.73 L326.20,502.05 L327.35,500.50 L328.68,499.08 L330.13,497.77 L331.67,496.58 L333.28,495.49 L334.94,494.49 L336.65,493.57 L338.39,492.72 L340.16,491.93 L341.95,491.19 L343.76,490.50 L345.59,489.84 L347.42,489.22 L349.27,488.62 L351.12,488.05 L352.98,487.50 L354.85,486.98 L356.72,486.47 L358.59,485.98 L360.47,485.50 L362.36,485.03 L364.24,484.58 L366.13,484.13 L368.02,483.70 L369.91,483.28 L371.80,482.87 L373.70,482.47 L375.60,482.08 L377.50,481.70 L379.40,481.33 L381.31,480.97 L383.22,480.63 L385.13,480.29 L387.04,479.97 L388.95,479.66 L390.86,479.35 L392.78,479.06 L394.69,478.78 L396.61,478.50 L398.53,478.24 L400.45,477.98 L402.37,477.73 L404.29,477.48 L406.22,477.25 L408.14,477.01 L410.07,476.79 L411.99,476.57 L413.92,476.35 L415.84,476.13 L417.77,475.92 L419.70,475.71 L421.63,475.51 L423.55,475.30 L425.48,475.10 L427.41,474.89 L429.34,474.69 L431.26,474.48 L433.19,474.27 L435.12,474.06 L437.05,473.85 L438.97,473.64 L440.90,473.42 L442.82,473.20 L444.75,472.97 L446.67,472.74 L448.60,472.51 L450.52,472.27 L452.44,472.04 L454.37,471.79 L456.29,471.55 L458.21,471.30 L460.13,471.05 L462.06,470.80 L463.98,470.55 L465.90,470.29 L467.82,470.03 L469.74,469.77 L471.66,469.50 L473.58,469.24 L475.50,468.97 L477.42,468.70 L479.33,468.43 L481.25,468.16 L483.17,467.88 L485.09,467.61 L487.01,467.33 L488.93,467.05 L490.84,466.78 L492.76,466.50 L494.68,466.22 L496.60,465.93 L498.51,465.65 L500.43,465.37 L502.35,465.08 L504.26,464.80 L506.18,464.51 L508.10,464.23 L510.01,463.94 L511.93,463.65 L513.85,463.36 L515.76,463.08 L517.68,462.79 L519.59,462.50 L521.51,462.21 L523.43,461.92 L525.34,461.62 L527.26,461.33 L529.17,461.04 L531.09,460.75 L533.01,460.46 L534.92,460.16 L536.84,459.87 L538.75,459.58 L540.67,459.29 L542.58,458.99 L544.50,458.70" fill="none" stroke="#3c3c3c" stroke-width="1.30" stroke-linejoin="round"/>
<path d="M94.80,463.90 L96.72,464.19 L98.63,464.49 L100.55,464.78 L102.46,465.07 L104.38,465.36 L106.29,465.66 L108.21,465.95 L110.13,466.24 L112.04,466.53 L113.96,466.82 L115.87,467.12 L117.79,467.41 L119.71,467.70 L121.62,467.99 L123.54,468.28 L125.45,468.56 L127.37,468.85 L129.29,469.14 L131.20,469.43 L133.12,469.71 L135.04,470.00 L136.95,470.28 L138.87,470.57 L140.79,470.85 L142.70,471.13 L144.62,471.42 L146.54,471.70 L148.46,471.98 L150.37,472.25 L152.29,472.53 L154.21,472.81 L156.13,473.08 L158.05,473.36 L159.97,473.63 L161.88,473.90 L163.80,474.17 L165.72,474.44 L167.64,474.70 L169.56,474.97 L171.48,475.23 L173.40,475.49 L175.32,475.75 L177.24,476.00 L179.17,476.25 L181.09,476.50 L183.01,476.75 L184.93,476.99 L186.86,477.24 L188.78,477.47 L190.70,477.71 L192.63,477.94 L194.55,478.17 L196.48,478.40 L198.40,478.62 L200.33,478.84 L202.25,479.05 L204.18,479.26 L206.11,479.47 L208.04,479.68 L209.96,479.89 L211.89,480.09 L213.82,480.30 L215.75,480.50 L217.67,480.71 L219.60,480.91 L221.53,481.12 L223.46,481.33 L225.38,481.55 L227.31,481.77 L229.23,481.99 L231.16,482.21 L233.08,482.45 L235.01,482.68 L236.93,482.93 L238.85,483.18 L240.77,483.44 L242.69,483.70 L244.61,483.98 L246.52,484.26 L248.44,484.55 L250.35,484.86 L252.26,485.17 L254.17,485.49 L256.08,485.83 L257.99,486.17 L259.90,486.53 L261.80,486.90 L263.70,487.28 L265.60,487.67 L267.50,488.07 L269.39,488.48 L271.28,488.90 L273.17,489.33 L275.06,489.78 L276.94,490.23 L278.83,490.70 L280.71,491.18 L282.58,491.67 L284.45,492.18 L286.32,492.70 L288.18,493.25 L290.03,493.82 L291.88,494.42 L293.71,495.04 L295.54,495.70 L297.35,496.39 L299.14,497.13 L300.91,497.92 L302.65,498.77 L304.36,499.69 L306.02,500.69 L307.63,501.78 L309.17,502.97 L310.62,504.28 L311.95,505.70 L313.10,507.25 L314.06,508.93 L314.87,510.69 L315.60,512.50" fill="none" stroke="#3c3c3c" stroke-width="1.30" stroke-linejoin="round"/>
<path d="M323.70,512.50 L324.43,510.69 L325.24,508.93 L326.20,507.25 L327.35,505.70 L328.68,504.28 L330.13,502.97 L331.67,501.78 L333.28,500.69 L334.94,499.69 L336.65,498.77 L338.39,497.92 L340.16,497.13 L341.95,496.39 L343.76,495.70 L345.59,495.04 L347.42,494.42 L349.27,493.82 L351.12,493.25 L352.98,492.70 L354.85,492.18 L356.72,491.67 L358.59,491.18 L360.47,490.70 L362.36,490.23 L364.24,489.78 L366.13,489.33 L368.02,488.90 L369.91,488.48 L371.80,488.07 L373.70,487.67 L375.60,487.28 L377.50,486.90 L379.40,486.53 L381.31,486.17 L383.22,485.83 L385.13,485.49 L387.04,485.17 L388.95,484.86 L390.86,484.55 L392.78,484.26 L394.69,483.98 L396.61,483.70 L398.53,483.44 L400.45,483.18 L402.37,482.93 L404.29,482.68 L406.22,482.45 L408.14,482.21 L410.07,481.99 L411.99,481.77 L413.92,481.55 L415.84,481.33 L417.77,481.12 L419.70,480.91 L421.63,480.71 L423.55,480.50 L425.48,480.30 L427.41,480.09 L429.34,479.89 L431.26,479.68 L433.19,479.47 L435.12,479.26 L437.05,479.05 L438.97,478.84 L440.90,478.62 L442.82,478.40 L444.75,478.17 L446.67,477.94 L448.60,477.71 L450.52,477.47 L452.44,477.24 L454.37,476.99 L456.29,476.75 L458.21,476.50 L460.13,476.25 L462.06,476.00 L463.98,475.75 L465.90,475.49 L467.82,475.23 L469.74,474.97 L471.66,474.70 L473.58,474.44 L475.50,474.17 L477.42,473.90 L479.33,473.63 L481.25,473.36 L483.17,473.08 L485.09,472.81 L487.01,472.53 L488.93,472.25 L490.84,471.98 L492.76,471.70 L494.68,471.42 L496.60,471.13 L498.51,470.85 L500.43,470.57 L502.35,470.28 L504.26,470.00 L506.18,469.71 L508.10,469.43 L510.01,469.14 L511.93,468.85 L513.85,468.56 L515.76,468.28 L517.68,467.99 L519.59,467.70 L521.51,467.41 L523.43,467.12 L525.34,466.82 L527.26,466.53 L529.17,466.24 L531.09,465.95 L533.01,465.66 L534.92,465.36 L536.84,465.07 L538.75,464.78 L540.67,464.49 L542.58,464.19 L544.50,463.90" fill="none" stroke="#3c3c3c" stroke-width="1.30" stroke-linejoin="round"/>
<path d="M94.80,469.00 L96.72,469.29 L98.63,469.59 L100.55,469.88 L102.46,470.17 L104.38,470.46 L106.29,470.76 L108.21,471.05 L110.13,471.34 L112.04,471.63 L113.96,471.92 L115.87,472.22 L117.79,472.51 L119.71,472.80 L121.62,473.09 L123.54,473.38 L125.45,473.66 L127.37,473.95 L129.29,474.24 L131.20,474.53 L133.12,474.81 L135.04,475.10 L136.95,475.38 L138.87,475.67 L140.79,475.95 L142.70,476.23 L144.62,476.52 L146.54,476.80 L148.46,477.08 L150.37,477.35 L152.29,477.63 L154.21,477.91 L156.13,478.18 L158.05,478.46 L159.97,478.73 L161.88,479.00 L163.80,479.27 L165.72,479.54 L167.64,479.80 L169.56,480.07 L171.48,480.33 L173.40,480.59 L175.32,480.85 L177.24,481.10 L179.17,481.35 L181.09,481.60 L183.01,481.85 L184.93,482.09 L186.86,482.34 L188.78,482.57 L190.70,482.81 L192.63,483.04 L194.55,483.27 L196.48,483.50 L198.40,483.72 L200.33,483.94 L202.25,484.15 L204.18,484.36 L206.11,484.57 L208.04,484.78 L209.96,484.99 L211.89,485.19 L213.82,485.40 L215.75,485.60 L217.67,485.81 L219.60,486.01 L221.53,486.22 L223.46,486.43 L225.38,486.65 L227.31,486.87 L229.23,487.09 L231.16,487.31 L233.08,487.55 L235.01,487.78 L236.93,488.03 L238.85,488.28 L240.77,488.54 L242.69,488.80 L244.61,489.08 L246.52,489.36 L248.44,489.65 L250.35,489.96 L252.26,490.27 L254.17,490.59 L256.08,490.93 L257.99,491.27 L259.90,491.63 L261.80,492.00 L263.70,492.38 L265.60,492.77 L267.50,493.17 L269.39,493.58 L271.28,494.00 L273.17,494.43 L275.06,494.88 L276.94,495.33 L278.83,495.80 L280.71,496.28 L282.58,496.77 L284.45,497.28 L286.32,497.80 L288.18,498.35 L290.03,498.92 L291.88,499.52 L293.71,500.14 L295.54,500.80 L297.35,501.49 L299.14,502.23 L300.91,503.02 L302.65,503.87 L304.36,504.79 L306.02,505.79 L307.63,506.88 L309.17,508.07 L310.62,509.38 L311.95,510.80 L313.10,512.35 L314.06,514.03 L314.87,515.79 L315.60,517.60" fill="none" stroke="#3c3c3c" stroke-width="1.30" stroke-linejoin="round"/>
<path d="M323.70,517.60 L324.43,515.79 L325.24,514.03 L326.20,512.35 L327.35,510.80 L328.68,509.38 L330.13,508.07 L331.67,506.88 L333.28,505.79 L334.94,504.79 L336.65,503.87 L338.39,503.02 L340.16,502.23 L341.95,501.49 L343.76,500.80 L345.59,500.14 L347.42,499.52 L349.27,498.92 L351.12,498.35 L352.98,497.80 L354.85,497.28 L356.72,496.77 L358.59,496.28 L360.47,495.80 L362.36,495.33 L364.24,494.88 L366.13,494.43 L368.02,494.00 L369.91,493.58 L371.80,493.17 L373.70,492.77 L375.60,492.38 L377.50,492.00 L379.40,491.63 L381.31,491.27 L383.22,490.93 L385.13,490.59 L387.04,490.27 L388.95,489.96 L390.86,489.65 L392.78,489.36 L394.69,489.08 L396.61,488.80 L398.53,488.54 L400.45,488.28 L402.37,488.03 L404.29,487.78 L406.22,487.55 L408.14,487.31 L410.07,487.09 L411.99,486.87 L413.92,486.65 L415.84,486.43 L417.77,486.22 L419.70,486.01 L421.63,485.81 L423.55,485.60 L425.48,485.40 L427.41,485.19 L429.34,484.99 L431.26,484.78 L433.19,484.57 L435.12,484.36 L437.05,484.15 L438.97,483.94 L440.90,483.72 L442.82,483.50 L444.75,483.27 L446.67,483.04 L448.60,482.81 L450.52,482.57 L452.44,482.34 L454.37,482.09 L456.29,481.85 L458.21,481.60 L460.13,481.35 L462.06,481.10 L463.98,480.85 L465.90,480.59 L467.82,480.33 L469.74,480.07 L471.66,479.80 L473.58,479.54 L475.50,479.27 L477.42,479.00 L479.33,478.73 L481.25,478.46 L483.17,478.18 L485.09,477.91 L487.01,477.63 L488.93,477.35 L490.84,477.08 L492.76,476.80 L494.68,476.52 L496.60,476.23 L498.51,475.95 L500.43,475.67 L502.35,475.38 L504.26,475.10 L506.18,474.81 L508.10,474.53 L510.01,474.24 L511.93,473.95 L513.85,473.66 L515.76,473.38 L517.68,473.09 L519.59,472.80 L521.51,472.51 L523.43,472.22 L525.34,471.92 L527.26,471.63 L529.17,471.34 L531.09,471.05 L533.01,470.76 L534.92,470.46 L536.84,470.17 L538.75,469.88 L540.67,469.59 L542.58,469.29 L544.50,469.00" fill="none" stroke="#3c3c3c" stroke-width="1.30" stroke-linejoin="round"/>
<path d="M94.80,474.10 L96.72,474.39 L98.63,474.69 L100.55,474.98 L102.46,475.27 L104.38,475.56 L106.29,475.86 L108.21,476.15 L110.13,476.44 L112.04,476.73 L113.96,477.02 L115.87,477.32 L117.79,477.61 L119.71,477.90 L121.62,478.19 L123.54,478.48 L125.45,478.76 L127.37,479.05 L129.29,479.34 L131.20,479.63 L133.12,479.91 L135.04,480.20 L136.95,480.48 L138.87,480.77 L140.79,481.05 L142.70,481.33 L144.62,481.62 L146.54,481.90 L148.46,482.18 L150.37,482.45 L152.29,482.73 L154.21,483.01 L156.13,483.28 L158.05,483.56 L159.97,483.83 L161.88,484.10 L163.80,484.37 L165.72,484.64 L167.64,484.90 L169.56,485.17 L171.48,485.43 L173.40,485.69 L175.32,485.95 L177.24,486.20 L179.17,486.45 L181.09,486.70 L183.01,486.95 L184.93,487.19 L186.86,487.44 L188.78,487.67 L190.70,487.91 L192.63,488.14 L194.55,488.37 L196.48,488.60 L198.40,488.82 L200.33,489.04 L202.25,489.25 L204.18,489.46 L206.11,489.67 L208.04,489.88 L209.96,490.09 L211.89,490.29 L213.82,490.50 L215.75,490.70 L217.67,490.91 L219.60,491.11 L221.53,491.32 L223.46,491.53 L225.38,491.75 L227.31,491.97 L229.23,492.19 L231.16,492.41 L233.08,492.65 L235.01,492.88 L236.93,493.13 L238.85,493.38 L240.77,493.64 L242.69,493.90 L244.61,494.18 L246.52,494.46 L248.44,494.75 L250.35,495.06 L252.26,495.37 L254.17,495.69 L256.08,496.03 L257.99,496.37 L259.90,496.73 L261.80,497.10 L263.70,497.48 L265.60,497.87 L267.50,498.27 L269.39,498.68 L271.28,499.10 L273.17,499.53 L275.06,499.98 L276.94,500.43 L278.83,500.90 L280.71,501.38 L282.58,501.87 L284.45,502.38 L286.32,502.90 L288.18,503.45 L290.03,504.02 L291.88,504.62 L293.71,505.24 L295.54,505.90 L297.35,506.59 L299.14,507.33 L300.91,508.12 L302.65,508.97 L304.36,509.89 L306.02,510.89 L307.63,511.98 L309.17,513.17 L310.62,514.48 L311.95,515.90 L313.10,517.45 L314.06,519.13 L314.87,520.89 L315.60,522.70" fill="none" stroke="#3c3c3c" stroke-width="1.30" stroke-linejoin="round"/>
<path d="M323.70,522.70 L324.43,520.89 L325.24,519.13 L326.20,517.45 L327.35,515.90 L328.68,514.48 L330.13,513.17 L331.67,511.98 L333.28,510.89 L334.94,509.89 L336.65,508.97 L338.39,508.12 L340.16,507.33 L341.95,506.59 L343.76,505.90 L345.59,505.24 L347.42,504.62 L349.27,504.02 L351.12,503.45 L352.98,502.90 L354.85,502.38 L356.72,501.87 L358.59,501.38 L360.47,500.90 L362.36,500.43 L364.24,499.98 L366.13,499.53 L368.02,499.10 L369.91,498.68 L371.80,498.27 L373.70,497.87 L375.60,497.48 L377.50,497.10 L379.40,496.73 L381.31,496.37 L383.22,496.03 L385.13,495.69 L387.04,495.37 L388.95,495.06 L390.86,494.75 L392.78,494.46 L394.69,494.18 L396.61,493.90 L398.53,493.64 L400.45,493.38 L402.37,493.13 L404.29,492.88 L406.22,492.65 L408.14,492.41 L410.07,492.19 L411.99,491.97 L413.92,491.75 L415.84,491.53 L417.77,491.32 L419.70,491.11 L421.63,490.91 L423.55,490.70 L425.48,490.50 L427.41,490.29 L429.34,490.09 L431.26,489.88 L433.19,489.67 L435.12,489.46 L437.05,489.25 L438.97,489.04 L440.90,488.82 L442.82,488.60 L444.75,488.37 L446.67,488.14 L448.60,487.91 L450.52,487.67 L452.44,487.44 L454.37,487.19 L456.29,486.95 L458.21,486.70 L460.13,486.45 L462.06,486.20 L463.98,485.95 L465.90,485.69 L467.82,485.43 L469.74,485.17 L471.66,484.90 L473.58,484.64 L475.50,484.37 L477.42,484.10 L479.33,483.83 L481.25,483.56 L483.17,483.28 L485.09,483.01 L487.01,482.73 L488.93,482.45 L490.84,482.18 L492.76,481.90 L494.68,481.62 L496.60,481.33 L498.51,481.05 L500.43,480.77 L502.35,480.48 L504.26,480.20 L506.18,479.91 L508.10,479.63 L510.01,479.34 L511.93,479.05 L513.85,478.76 L515.76,478.48 L517.68,478.19 L519.59,477.90 L521.51,477.61 L523.43,477.32 L525.34,477.02 L527.26,476.73 L529.17,476.44 L531.09,476.15 L533.01,475.86 L534.92,475.56 L536.84,475.27 L538.75,474.98 L540.67,474.69 L542.58,474.39 L544.50,474.10" fill="none" stroke="#3c3c3c" stroke-width="1.30" stroke-linejoin="round"/>
<path d="M319.65,440.60 C323.37,440.60 323.30,445.60 323.30,460.60 L320.00,538.50 L319.30,538.50 L316.00,460.60 C316.00,445.60 315.93,440.60 319.65,440.60 Z" fill="#a2a2a2" stroke="#3a3a3a" stroke-width="1.0" stroke-linejoin="round"/>
<ellipse cx="319.65" cy="453.90" rx="1.75" ry="9.30" fill="#b8b8b8" stroke="#333" stroke-width="1.1"/>
<path d="M318.9,534.1 L320.4,534.1 L319.65,539 Z" fill="#1a3560" stroke="#1a3560" stroke-width="0.5"/>
</svg>
</body></html>
